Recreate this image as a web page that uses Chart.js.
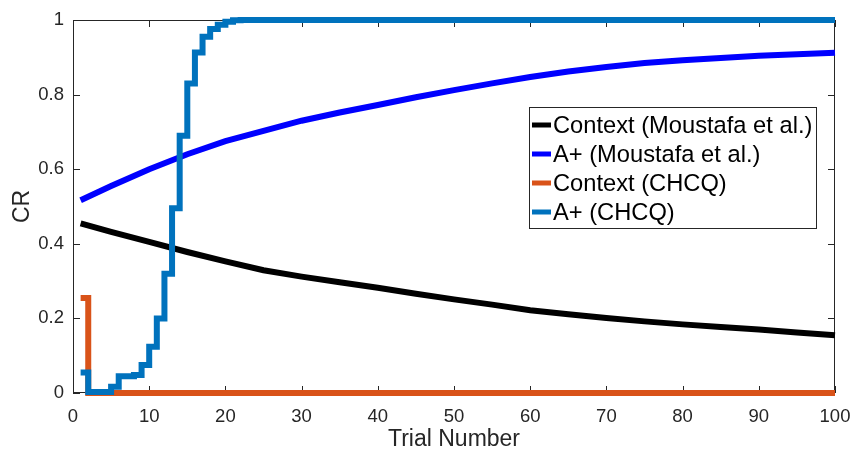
<!DOCTYPE html>
<html>
<head>
<meta charset="utf-8">
<script src="https://cdn.jsdelivr.net/npm/chart.js@4/dist/chart.umd.min.js"></script>
<style>
  html, body { margin: 0; padding: 0; background: #ffffff; }
  #wrap { width: 853px; height: 450px; }
</style>
</head>
<body>
<div id="wrap"><canvas id="cr" width="853" height="450"></canvas></div>
<script>
// Model curves (Moustafa et al.), sampled every few trials
const modelTrials = [1, 5, 10, 15, 20, 25, 30, 35, 40, 45, 50, 55, 60, 65, 70, 75, 80, 85, 90, 95, 100];
const contextMoustafa = [0.455, 0.432, 0.405, 0.378, 0.353, 0.329, 0.312, 0.297, 0.282, 0.266, 0.251,
                         0.237, 0.222, 0.211, 0.201, 0.192, 0.184, 0.177, 0.170, 0.162, 0.155];
const aPlusMoustafa = [0.517, 0.555, 0.600, 0.640, 0.675, 0.703, 0.730, 0.752, 0.772, 0.793, 0.812,
                       0.830, 0.847, 0.862, 0.874, 0.885, 0.892, 0.898, 0.904, 0.908, 0.912];

// CHCQ trial-by-trial responses (held constant between listed trials)
const chcqContextTrials = [1, 2, 100];
const contextCHCQ = [0.255, 0, 0];
const chcqAPlusTrials = [1, 2, 3, 4, 5, 6, 7, 8, 9, 10, 11, 12, 13, 14, 15, 16, 17, 18, 19, 20, 21, 22, 100];
const aPlusCHCQ = [0.055, 0.003, 0.003, 0.003, 0.017, 0.045, 0.045, 0.048, 0.075, 0.124, 0.200, 0.320,
                   0.495, 0.690, 0.830, 0.913, 0.955, 0.976, 0.987, 0.995, 0.999, 1, 1];

const xTicks = [0, 10, 20, 30, 40, 50, 60, 70, 80, 90, 100];
const yTicks = [0, 0.2, 0.4, 0.6, 0.8, 1];

const seriesLabels = ['Context (Moustafa et al.)', 'A+ (Moustafa et al.)', 'Context (CHCQ)', 'A+ (CHCQ)'];
const seriesColors = ['#000000', '#0000ff', '#d95319', '#0072bd'];

const FONT = "'Liberation Sans', Arial, Helvetica, sans-serif";
const AXIS_COLOR = '#262626';

function toPoints(xs, ys) {
  return xs.map((x, i) => ({ x: x, y: ys[i] }));
}

// Box around the plot area with inward-pointing ticks on all four sides
const axesBox = {
  id: 'axesBox',
  beforeDatasetsDraw(chart) {
    const { ctx, chartArea: a, scales } = chart;
    const len = 7;
    ctx.save();
    ctx.strokeStyle = AXIS_COLOR;
    ctx.lineWidth = 1;
    ctx.beginPath();
    ctx.rect(a.left + 0.5, a.top + 0.5, a.right - a.left - 1, a.bottom - a.top - 1);
    xTicks.forEach(v => {
      const px = Math.round(scales.x.getPixelForValue(v)) + 0.5;
      ctx.moveTo(px, a.bottom); ctx.lineTo(px, a.bottom - len);
      ctx.moveTo(px, a.top); ctx.lineTo(px, a.top + len);
    });
    yTicks.forEach(v => {
      const py = Math.round(scales.y.getPixelForValue(v)) + 0.5;
      ctx.moveTo(a.left, py); ctx.lineTo(a.left + len, py);
      ctx.moveTo(a.right, py); ctx.lineTo(a.right - len, py);
    });
    ctx.stroke();
    ctx.restore();
  }
};

// Boxed legend inside the plot area
const boxLegend = {
  id: 'boxLegend',
  afterDatasetsDraw(chart) {
    const { ctx } = chart;
    const left = 529.5, top = 107.5, w = 287, h = 121;
    const rowStart = 125, rowGap = 29;
    ctx.save();
    ctx.fillStyle = '#ffffff';
    ctx.fillRect(left, top, w, h);
    ctx.strokeStyle = AXIS_COLOR;
    ctx.lineWidth = 1;
    ctx.strokeRect(left, top, w, h);
    ctx.font = '23.7px ' + FONT;
    ctx.textBaseline = 'middle';
    ctx.textAlign = 'left';
    chart.data.datasets.forEach((ds, i) => {
      const y = rowStart + i * rowGap;
      ctx.strokeStyle = ds.borderColor;
      ctx.lineWidth = 5;
      ctx.beginPath();
      ctx.moveTo(532, y);
      ctx.lineTo(551, y);
      ctx.stroke();
      ctx.fillStyle = '#000000';
      ctx.fillText(ds.label, 553, y + 1);
    });
    ctx.restore();
  }
};

const lineStyle = {
  borderWidth: 6,
  pointRadius: 0,
  fill: false,
  tension: 0,
  clip: false
};

new Chart(document.getElementById('cr'), {
  type: 'line',
  data: {
    datasets: [
      Object.assign({ label: seriesLabels[0], data: toPoints(modelTrials, contextMoustafa),
        borderColor: seriesColors[0], order: 3 }, lineStyle),
      Object.assign({ label: seriesLabels[1], data: toPoints(modelTrials, aPlusMoustafa),
        borderColor: seriesColors[1], order: 2 }, lineStyle),
      Object.assign({ label: seriesLabels[2], data: toPoints(chcqContextTrials, contextCHCQ),
        borderColor: seriesColors[2], stepped: 'before', order: 1 }, lineStyle),
      Object.assign({ label: seriesLabels[3], data: toPoints(chcqAPlusTrials, aPlusCHCQ),
        borderColor: seriesColors[3], stepped: 'before', order: 0 }, lineStyle)
    ]
  },
  options: {
    responsive: false,
    animation: false,
    devicePixelRatio: 1,
    layout: { padding: { top: 20, right: 18, left: 0, bottom: 0 } },
    plugins: {
      legend: { display: false },
      tooltip: { enabled: false },
      title: { display: false }
    },
    scales: {
      x: {
        type: 'linear',
        min: 0,
        max: 100,
        afterBuildTicks(scale) { scale.ticks = xTicks.map(v => ({ value: v })); },
        afterFit(scale) {
          scale.height = 57;
          scale.paddingLeft = 0;
          scale.paddingRight = 0;
        },
        grid: { display: false, drawTicks: false },
        border: { display: false },
        ticks: {
          padding: 13,
          maxRotation: 0,
          autoSkip: false,
          color: AXIS_COLOR,
          font: { family: FONT, size: 18.5 },
          callback: v => String(v)
        },
        title: {
          display: true,
          text: 'Trial Number',
          color: AXIS_COLOR,
          font: { family: FONT, size: 23, lineHeight: 1 },
          padding: { top: 0, bottom: -1.5 }
        }
      },
      y: {
        type: 'linear',
        min: 0,
        max: 1,
        afterBuildTicks(scale) { scale.ticks = yTicks.map(v => ({ value: v })); },
        afterFit(scale) {
          scale.width = 73;
          scale.paddingTop = 0;
          scale.paddingBottom = 0;
        },
        grid: { display: false, drawTicks: false },
        border: { display: false },
        ticks: {
          padding: 9,
          autoSkip: false,
          color: AXIS_COLOR,
          font: { family: FONT, size: 18.5 },
          callback: v => String(Math.round(v * 10) / 10)
        },
        title: {
          display: true,
          text: 'CR',
          color: AXIS_COLOR,
          font: { family: FONT, size: 23, lineHeight: 1 },
          padding: { top: 11.5, bottom: 0 }
        }
      }
    }
  },
  plugins: [axesBox, boxLegend]
});
</script>
</body>
</html>
